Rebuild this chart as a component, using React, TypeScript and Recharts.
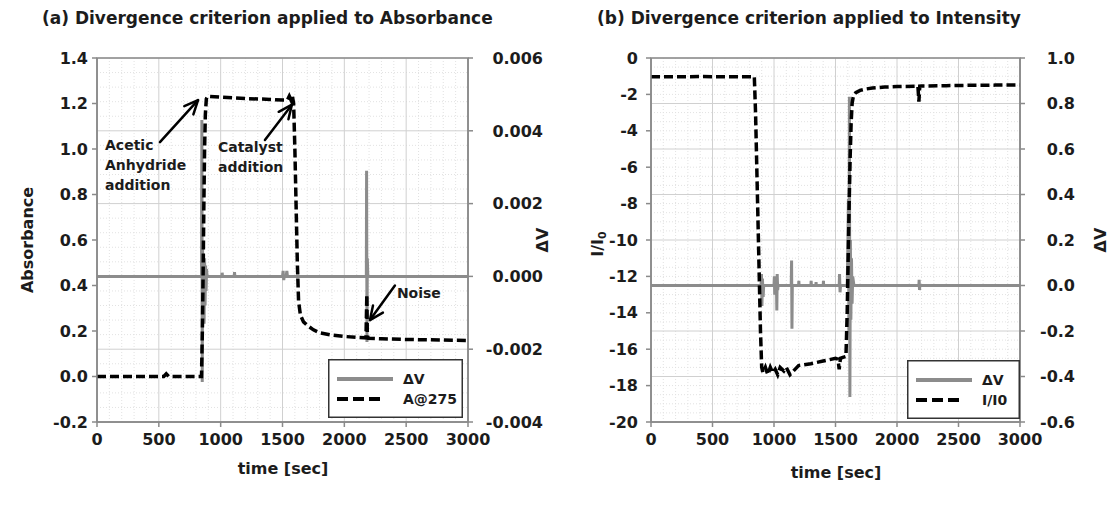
import { ComposedChart, Line, XAxis, YAxis, CartesianGrid, ReferenceArea, ReferenceLine, ReferenceDot, Legend, Label } from "recharts";

const FONT = "'DejaVu Sans', 'Liberation Sans', Arial, sans-serif";
const INK = "#1c1c1c";
const GRAY = "#8c8c8c";
const AXIS = "#8a8a8a";

const timeTicks = [0, 500, 1000, 1500, 2000, 2500, 3000];

// (a) absorbance at 275 nm
const absTime = [0, 300, 540, 560, 580, 845, 852, 858, 864, 870, 876, 884, 895, 950, 1000, 1100, 1200, 1300, 1400, 1500, 1540, 1555, 1570, 1580, 1590, 1600, 1610, 1620, 1630, 1645, 1670, 1700, 1750, 1800, 1900, 2000, 2100, 2175, 2182, 2186, 2195, 2300, 2500, 2700, 3000];
const absValues = [0, 0, 0, 0.012, 0, 0, 0.2, 0.45, 0.75, 1.0, 1.15, 1.22, 1.232, 1.23, 1.228, 1.225, 1.222, 1.22, 1.218, 1.215, 1.215, 1.232, 1.214, 1.232, 1.2, 1.0, 0.75, 0.5, 0.33, 0.27, 0.24, 0.225, 0.205, 0.192, 0.182, 0.176, 0.172, 0.17, 0.36, 0.18, 0.168, 0.166, 0.163, 0.161, 0.158];
const dvTimeA = [0, 845, 848, 851, 854, 857, 862, 866, 870, 874, 878, 882, 886, 890, 1010, 1012, 1015, 1110, 1112, 1115, 1500, 1505, 1510, 1514, 1530, 1535, 1540, 2178, 2180, 2183, 2186, 2190, 3000];
const dvValuesA = [0, 0, 0.0043, -0.0029, 0.0008, -0.0012, 0.0006, -0.0013, 0.0005, -0.0008, 0.0003, -0.0004, 0.0002, 0, 0, 0.0001, 0, 0, 0.00012, 0, 0, 0.00015, -0.0001, 0, 0, 0.00015, 0, 0, 0.0029, -0.0018, 0.0005, 0, 0];
const absTicks = [-0.2, 0, 0.2, 0.4, 0.6, 0.8, 1.0, 1.2, 1.4];
const dvTicksA = [-0.004, -0.002, 0, 0.002, 0.004, 0.006];

// (b) intensity ratio
const intTime = [0, 200, 400, 600, 840, 850, 860, 870, 880, 890, 900, 910, 930, 950, 970, 990, 1010, 1030, 1050, 1080, 1100, 1130, 1200, 1300, 1400, 1500, 1520, 1530, 1540, 1560, 1585, 1595, 1603, 1611, 1619, 1627, 1635, 1645, 1665, 1700, 1750, 1800, 1900, 2000, 2170, 2178, 2185, 2200, 2400, 2600, 2800, 3000];
const intValues = [-1.03, -1.03, -1.02, -1.03, -1.03, -3, -6, -9, -12, -15, -17, -17.3, -17.0, -17.4, -17.0, -17.3, -17.1, -17.4, -17.0, -17.2, -17.0, -17.4, -16.9, -16.8, -16.65, -16.5, -16.55, -17.1, -16.5, -16.45, -16.4, -14, -11, -8, -5.5, -3.6, -2.5, -2.1, -1.9, -1.78, -1.7, -1.65, -1.6, -1.57, -1.55, -2.4, -1.55, -1.54, -1.52, -1.5, -1.49, -1.48];
const dvTimeB = [0, 895, 898, 902, 906, 912, 916, 1000, 1003, 1006, 1009, 1020, 1023, 1026, 1030, 1033, 1140, 1143, 1146, 1149, 1200, 1202, 1204, 1300, 1302, 1304, 1340, 1342, 1344, 1400, 1402, 1404, 1530, 1533, 1537, 1541, 1595, 1600, 1605, 1609, 1613, 1617, 1621, 1625, 1630, 1635, 1640, 1650, 2178, 2180, 2183, 2186, 3000];
const dvValuesB = [0, 0, 0.05, -0.09, 0.03, -0.05, 0, 0, 0.04, -0.04, 0, 0, -0.11, 0.05, -0.02, 0, 0, 0.11, -0.19, 0, 0, 0.02, 0, 0, 0.02, 0, 0, 0.015, 0, 0, 0.02, 0, 0, 0.05, -0.03, 0, 0, 0.15, 0.38, -0.2, 0.83, -0.49, 0.2, -0.15, 0.12, -0.08, 0.04, 0, 0, 0.025, -0.02, 0, 0];
const intTicks = [-20, -18, -16, -14, -12, -10, -8, -6, -4, -2, 0];
const dvTicksB = [-0.6, -0.4, -0.2, 0, 0.2, 0.4, 0.6, 0.8, 1.0];

const toPts = (ts: number[], vs: number[]) => ts.map((t, i) => ({ t, v: vs[i] }));

// minor grid positions between the major ticks
const subdivide = (ticks: number[], n: number) => {
  const out: number[] = [];
  for (let i = 0; i < ticks.length - 1; i++) {
    for (let k = 1; k < n; k++) out.push(ticks[i] + ((ticks[i + 1] - ticks[i]) * k) / n);
  }
  return out;
};

// map values onto the plot box (linear axes)
const rowsFor = (vals: number[], ticks: number[]) => ({ offset }: any) => {
  const lo = ticks[0];
  const hi = ticks[ticks.length - 1];
  return vals.map((v) => offset.top + (offset.height * (hi - v)) / (hi - lo));
};
const colsFor = (vals: number[], ticks: number[]) => ({ offset }: any) => {
  const lo = ticks[0];
  const hi = ticks[ticks.length - 1];
  return vals.map((v) => offset.left + (offset.width * (v - lo)) / (hi - lo));
};

const tickStyle = { fill: INK, fontSize: 16, fontWeight: 700, fontFamily: FONT };

const RightTick = (props: any) => {
  const { x, y, payload, shift, digits } = props;
  return (
    <text x={x + shift} y={y} dy="0.36em" textAnchor="end" {...tickStyle}>
      {payload.value.toFixed(digits)}
    </text>
  );
};

const AxisTitle = ({ viewBox, dx, dy, children, rotate }: any) => {
  const cx = viewBox.x + dx;
  const cy = viewBox.y + dy;
  return (
    <text x={cx} y={cy} textAnchor="middle" dominantBaseline="central" transform={rotate ? `rotate(-90 ${cx} ${cy})` : undefined} fill={INK} fontSize={16} fontWeight={700} fontFamily={FONT}>
      {children}
    </text>
  );
};

const Arrow = (p: any) => {
  const { x1, y1, x2, y2 } = p;
  const a = Math.atan2(y2 - y1, x2 - x1);
  const head = (len: number, s: number) => [
    `${x2 - len * Math.cos(a - s)},${y2 - len * Math.sin(a - s)}`,
    `${x2},${y2}`,
    `${x2 - len * Math.cos(a + s)},${y2 - len * Math.sin(a + s)}`,
  ].join(" ");
  return (
    <g stroke="#000" strokeWidth={2.5} fill="none" strokeLinecap="round" strokeLinejoin="round">
      <line x1={x1} y1={y1} x2={x2} y2={y2} />
      <polyline points={head(15, 0.42)} />
    </g>
  );
};

const note = (lines: string[]) => (p: any) => (
  <text x={p.cx} y={p.cy} fill={INK} fontSize={14} fontWeight={700} fontFamily={FONT}>
    {lines.map((l, i) => (
      <tspan key={l} x={p.cx} dy={i === 0 ? "0.35em" : 20}>{l}</tspan>
    ))}
  </text>
);

const LegendBox = ({ w, label }: { w: number; label: string }) => (
  <svg width={w} height={59} style={{ display: "block" }}>
    <rect x={0.75} y={0.75} width={w - 1.5} height={57.5} fill="#fff" stroke="#333" strokeWidth={1.5} />
    <line x1={9} x2={65} y1={20} y2={20} stroke={GRAY} strokeWidth={4} />
    <line x1={9} x2={57} y1={40} y2={40} stroke="#000" strokeWidth={4} strokeDasharray="11 5" />
    <text x={75} y={20} dy="0.36em" fill={INK} fontSize={14} fontWeight={700} fontFamily={FONT}>ΔV</text>
    <text x={75} y={40} dy="0.36em" fill={INK} fontSize={14} fontWeight={700} fontFamily={FONT}>{label}</text>
  </svg>
);

const Title = ({ left, children }: any) => (
  <div style={{ position: "absolute", left, top: 8, fontFamily: FONT, fontWeight: 700, fontSize: 17, color: INK, whiteSpace: "nowrap" }}>
    {children}
  </div>
);

export default function App() {
  const absData = toPts(absTime, absValues);
  const dvDataA = toPts(dvTimeA, dvValuesA);
  const intData = toPts(intTime, intValues);
  const dvDataB = toPts(dvTimeB, dvValuesB);
  const minorT = subdivide(timeTicks, 5);
  const minorA = subdivide(dvTicksA, 5);
  const minorB = subdivide(dvTicksB, 5);

  return (
    <div style={{ position: "absolute", left: 0, top: 0, width: 1114, height: 507, background: "#fff" }}>
      <Title left={42}>(a) Divergence criterion applied to Absorbance</Title>
      <Title left={597}>(b) Divergence criterion applied to Intensity</Title>

      <div style={{ position: "absolute", left: 0, top: 0 }}>
        <ComposedChart width={557} height={507} margin={{ top: 58, right: 0, bottom: 0, left: 0 }}>
          <CartesianGrid yAxisId="right" stroke="#e2e2e2" strokeDasharray="1 2"
            horizontalCoordinatesGenerator={rowsFor(minorA, dvTicksA)}
            verticalCoordinatesGenerator={colsFor(minorT, timeTicks)} />
          <CartesianGrid yAxisId="right" stroke="#d0d0d0" />
          <XAxis dataKey="t" type="number" domain={[0, 3000]} ticks={timeTicks} interval={0} tick={tickStyle}
            stroke={AXIS} strokeWidth={1.5} tickSize={5} tickMargin={7} height={85}>
            <Label content={(p: any) => <AxisTitle viewBox={p.viewBox} dx={186} dy={46}>time [sec]</AxisTitle>} />
          </XAxis>
          <YAxis yAxisId="left" domain={[-0.2, 1.4]} ticks={absTicks} interval={0} tick={tickStyle}
            tickFormatter={(v: number) => v.toFixed(1)} stroke={AXIS} strokeWidth={1.5} tickSize={5} tickMargin={4} width={97}>
            <Label content={(p: any) => <AxisTitle viewBox={p.viewBox} dx={27} dy={182} rotate>Absorbance</AxisTitle>} />
          </YAxis>
          <YAxis yAxisId="right" orientation="right" domain={[-0.004, 0.006]} ticks={dvTicksA} interval={0}
            tick={(p: any) => <RightTick {...p} shift={66} digits={3} />} stroke={AXIS} strokeWidth={1.5} tickSize={5} tickMargin={4} width={89}>
            <Label content={(p: any) => <AxisTitle viewBox={p.viewBox} dx={74} dy={182} rotate>ΔV</AxisTitle>} />
          </YAxis>
          <ReferenceArea yAxisId="left" x1={0} x2={3000} y1={-0.2} y2={1.4} fill="none" stroke={AXIS} strokeWidth={1.5} />
          <Line yAxisId="right" data={dvDataA} dataKey="v" type="linear" stroke={GRAY} strokeWidth={3} dot={false} isAnimationActive={false} />
          <Line yAxisId="left" data={absData} dataKey="v" type="linear" stroke="#000" strokeWidth={3.5} strokeDasharray="9 4" dot={false} isAnimationActive={false} />
          <ReferenceLine yAxisId="left" segment={[{ x: 509, y: 1.03 }, { x: 817, y: 1.215 }]} shape={Arrow} />
          <ReferenceLine yAxisId="left" segment={[{ x: 1358, y: 1.04 }, { x: 1576, y: 1.195 }]} shape={Arrow} />
          <ReferenceLine yAxisId="left" segment={[{ x: 2409, y: 0.4 }, { x: 2207, y: 0.248 }]} shape={Arrow} />
          <ReferenceDot yAxisId="left" x={65} y={1.017} r={0} shape={note(["Acetic", "Anhydride", "addition"])} />
          <ReferenceDot yAxisId="left" x={978} y={1.01} r={0} shape={note(["Catalyst", "addition"])} />
          <ReferenceDot yAxisId="left" x={2425} y={0.367} r={0} shape={note(["Noise"])} />
          <Legend layout="horizontal" verticalAlign="middle" align="center" wrapperStyle={{ left: 328, top: 359, width: 135, height: 59 }}
            content={() => <LegendBox w={135} label="A@275" />} />
        </ComposedChart>
      </div>

      <div style={{ position: "absolute", left: 557, top: 0 }}>
        <ComposedChart width={557} height={507} margin={{ top: 58, right: 0, bottom: 0, left: 0 }}>
          <CartesianGrid yAxisId="right" stroke="#e2e2e2" strokeDasharray="1 2"
            horizontalCoordinatesGenerator={rowsFor(minorB, dvTicksB)}
            verticalCoordinatesGenerator={colsFor(minorT, timeTicks)} />
          <CartesianGrid yAxisId="right" stroke="#d0d0d0" />
          <XAxis dataKey="t" type="number" domain={[0, 3000]} ticks={timeTicks} interval={0} tick={tickStyle}
            stroke={AXIS} strokeWidth={1.5} tickSize={5} tickMargin={7} height={85}>
            <Label content={(p: any) => <AxisTitle viewBox={p.viewBox} dx={185} dy={50}>time [sec]</AxisTitle>} />
          </XAxis>
          <YAxis yAxisId="left" domain={[-20, 0]} ticks={intTicks} interval={0} tick={tickStyle}
            stroke={AXIS} strokeWidth={1.5} tickSize={5} tickMargin={8} width={94}>
            <Label content={(p: any) => {
              const cx = p.viewBox.x + 40;
              const cy = p.viewBox.y + 186;
              return (
                <text x={cx} y={cy} textAnchor="middle" dominantBaseline="central" transform={`rotate(-90 ${cx} ${cy})`} fill={INK} fontSize={16} fontWeight={700} fontFamily={FONT}>
                  I/I<tspan fontSize={11} dy={5}>0</tspan>
                </text>
              );
            }} />
          </YAxis>
          <YAxis yAxisId="right" orientation="right" domain={[-0.6, 1.0]} ticks={dvTicksB} interval={0}
            tick={(p: any) => <RightTick {...p} shift={46} digits={1} />} stroke={AXIS} strokeWidth={1.5} tickSize={5} tickMargin={4} width={94}>
            <Label content={(p: any) => <AxisTitle viewBox={p.viewBox} dx={80} dy={182} rotate>ΔV</AxisTitle>} />
          </YAxis>
          <ReferenceArea yAxisId="left" x1={0} x2={3000} y1={-20} y2={0} fill="none" stroke={AXIS} strokeWidth={1.5} />
          <Line yAxisId="right" data={dvDataB} dataKey="v" type="linear" stroke={GRAY} strokeWidth={3} dot={false} isAnimationActive={false} />
          <Line yAxisId="left" data={intData} dataKey="v" type="linear" stroke="#000" strokeWidth={3.5} strokeDasharray="9 4" dot={false} isAnimationActive={false} />
          <Legend layout="horizontal" verticalAlign="middle" align="center" wrapperStyle={{ left: 350, top: 360, width: 113, height: 59 }}
            content={() => <LegendBox w={113} label="I/I0" />} />
        </ComposedChart>
      </div>
    </div>
  );
}
